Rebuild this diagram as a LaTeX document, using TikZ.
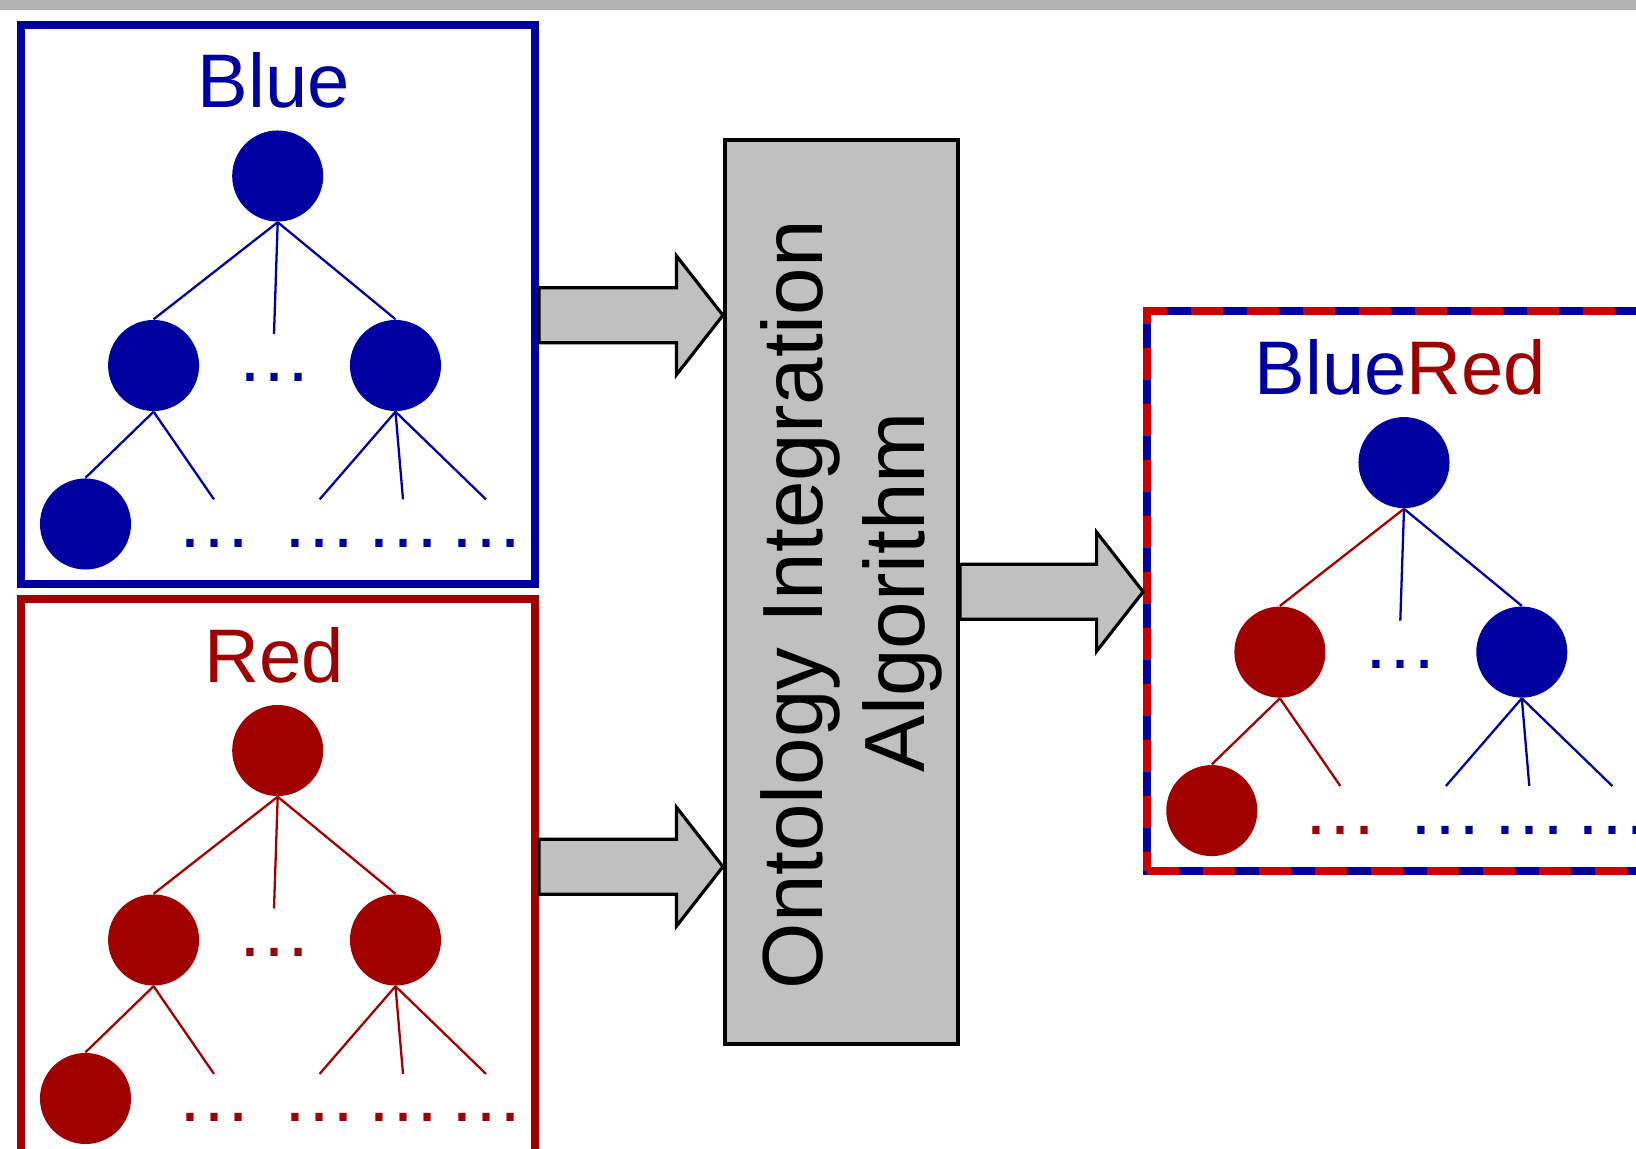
\documentclass[tikz,border=0pt]{standalone}
\usepackage{fontspec}
\setmainfont{Liberation Sans}
\usetikzlibrary{calc}

\definecolor{ontblue}{RGB}{0,0,160}
\definecolor{ontred}{RGB}{160,0,0}
\definecolor{dashred}{RGB}{204,0,0}
\definecolor{algogray}{RGB}{192,192,192}
\definecolor{topgray}{RGB}{179,179,179}

\begin{document}
\begin{tikzpicture}[x=0.01cm, y=-0.01cm]
			\tikzstyle{ontbox}=[draw, rectangle, line width=2.28pt, minimum width=5.14cm, minimum height=5.59cm, inner sep=0pt]
			\tikzstyle{treenode}=[circle, minimum size=0.91cm, inner sep=0pt]
			\tikzstyle{treeline}=[line width=0.65pt]
			\tikzstyle{boxlabel}=[anchor=base, inner sep=0pt, font=\fontsize{21.6}{26}\selectfont]
			\tikzstyle{dotsnode}=[boxlabel]
			\tikzstyle{algobox}=[draw, fill=algogray, line width=1.14pt, minimum width=2.33cm, minimum height=9.035cm, inner sep=0pt]
			\tikzstyle{algotext}=[rotate=90, align=center, inner sep=0pt, font=\fontsize{24.3}{29.1}\selectfont]
			\tikzstyle{blockarrow}=[draw, fill=algogray, line width=0.9pt]
			\tikzstyle{mixdash}=[draw=dashred, line width=2.28pt, dash pattern=on 9.1pt off 6.83pt]

			% #1 prefix, #2 root colour, #3 left colour, #4 right colour
			\newcommand\OntTree[4]{%
				\node [treenode, fill=#2] at (277.7,176) (#1root) {};
				\node [treenode, fill=#3] at (153.6,365.5) (#1left) {};
				\node [treenode, fill=#4] at (395.5,365.5) (#1right) {};
				\node [treenode, fill=#3] at (85.5,524) (#1leaf) {};
				\coordinate (#1mid) at (274,334);
				\coordinate (#1l2) at (214,499.4);
				\coordinate (#1r1) at (319.6,499.4);
				\coordinate (#1r2) at (403,499.4);
				\coordinate (#1r3) at (486,499.4);
				\draw [treeline, #3] (#1root.south) -- (#1left.north);
				\draw [treeline, #2] (#1root.south) -- (#1mid);
				\draw [treeline, #4] (#1root.south) -- (#1right.north);
				\draw [treeline, #3] (#1left.south) -- (#1leaf.north);
				\draw [treeline, #3] (#1left.south) -- (#1l2);
				\foreach \s in {r1,r2,r3} \draw [treeline, #4] (#1right.south) -- (#1\s);
				\node [dotsnode, text=#2] at (274,382) (#1dm) {…};
				\node [dotsnode, text=#3] at (214,547.4) (#1dl2) {…};
				\foreach \s/\x in {r1/319.6,r2/403,r3/486} \node [dotsnode, text=#4] at (\x,547.4) (#1d\s) {…};
			}
			\newcommand\BlockArrow[2]{%
				\path [blockarrow] ($(#1)+(0,27.5)$) -- ($(#2)+(-46.5,27.5)$) -- ($(#2)+(-46.5,59.5)$) -- (#2)
					-- ($(#2)+(-46.5,-59.5)$) -- ($(#2)+(-46.5,-27.5)$) -- ($(#1)+(0,-27.5)$) -- cycle;
			}

			\useasboundingbox (0,0) rectangle (1636,1149);
			\clip (0,0) rectangle (1636,1149);
			\fill [topgray] (0,0) rectangle (1636,10.5);

			 % Blue ontology
			\begin{scope}
				\node [ontbox, draw=ontblue] at (278,304.5) (bluebox) {};
				\node [boxlabel, text=ontblue] at (274,108) (bluelabel) {Blue};
				\OntTree{b}{ontblue}{ontblue}{ontblue}
			\end{scope}

			 % Red ontology
			\begin{scope}[shift={(0,574.5)}]
				\node [ontbox, draw=ontred] at (278,304.5) (redbox) {};
				\node [boxlabel, text=ontred] at (274,108) (redlabel) {Red};
				\OntTree{r}{ontred}{ontred}{ontred}
			\end{scope}

			 % Merged ontology
			\begin{scope}[shift={(1126.3,286.6)}]
				\node [ontbox, draw=ontblue] at (278,304.5) (mixbox) {};
				\draw [mixdash] ($(mixbox.south west)+(4,-4)$) -- ($(mixbox.south east)+(-4,-4)$)
					-- ($(mixbox.north east)+(-4,4)$) -- ($(mixbox.north west)+(4,4)$) -- cycle;
				\node [boxlabel] at (274,108) (mixlabel) {\textcolor{ontblue}{Blue}\textcolor{ontred}{Red}};
				\OntTree{m}{ontblue}{ontred}{ontblue}
			\end{scope}

			 % Algorithm
			\node [algobox] at (841.5,591.75) (algo) {};
			\node [algotext] at ($(algo.center)+(10,0.5)$) (algolabel) {Ontology Integration\kern0.29em\\Algorithm};

			 % Block arrows
			\coordinate (blueout) at (bluebox.east |- 0,315.3);
			\coordinate (bluein) at (algo.west |- 0,315.3);
			\coordinate (redout) at (redbox.east |- 0,866.7);
			\coordinate (redin) at (algo.west |- 0,866.7);
			\coordinate (mixin) at (mixbox.west |- algo.east);
			\BlockArrow{blueout}{bluein}
			\BlockArrow{redout}{redin}
			\BlockArrow{algo.east}{mixin}

\end{tikzpicture}
\end{document}
